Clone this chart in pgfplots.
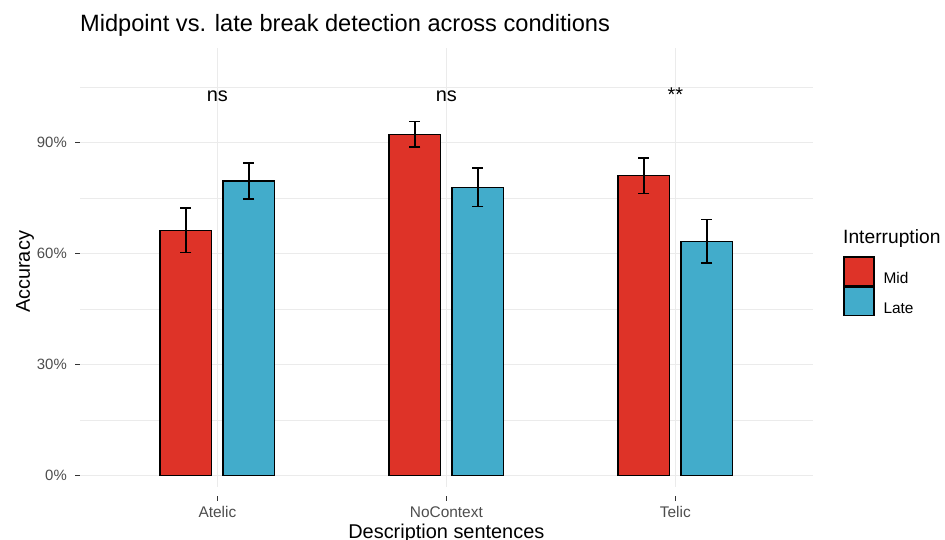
\documentclass[border=0pt]{standalone}
\usepackage{pgfplots}
\pgfplotsset{compat=1.18}
\usepackage{fontspec}
\setmainfont{Liberation Sans}
\definecolor{midred}{RGB}{222,51,40}
\definecolor{lateblue}{RGB}{66,172,203}
\definecolor{gridgrey}{RGB}{235,235,235}
\definecolor{ticktext}{RGB}{77,77,77}
\definecolor{tickcol}{RGB}{51,51,51}
\begin{document}
\begin{tikzpicture}
\useasboundingbox (-80bp,-44bp) rectangle (865bp,496bp);
\begin{axis}[
  at={(0bp,0bp)}, anchor=south west,
  scale only axis,
  width=732.7bp, height=448bp,
  xmin=-0.6, xmax=2.6, ymin=-5.5, ymax=115.5,
  ybar, bar width=0.225,
  xtick={0,1,2}, xticklabels={Atelic,NoContext,Telic},
  ytick={0,30,60,90}, yticklabels={0\%,30\%,60\%,90\%},
  minor ytick={15,45,75,105},
  ymajorgrids, yminorgrids,
  major grid style={gridgrey, line width=1.1bp},
  minor grid style={gridgrey, line width=0.6bp},
  axis x line*=bottom, axis y line*=left,
  axis line style={draw=none},
  tick align=outside,
  major tick length=4.5bp, minor tick length=0pt,
  major tick style={draw=tickcol, line width=1.2bp},
  yticklabel style={font=\fontsize{15}{18}\selectfont, text=ticktext, anchor=east, inner sep=0pt, xshift=-8.5bp},
  xticklabel style={font=\fontsize{15.5}{18}\selectfont, text=ticktext, anchor=base, inner sep=0pt, yshift=-17bp},
  legend style={at={(1.04138,0.53571)}, anchor=north west, draw=none, fill=none,
    inner sep=0pt, row sep=0pt, column sep=9bp, nodes={inner sep=0pt},
    font=\fontsize{15.5}{18}\selectfont},
  legend cell align=left,
  legend image code/.code={\draw[#1, line width=1.3bp] (0bp,-7bp) rectangle (30bp,21.7bp);},
]
\draw[gridgrey, line width=1.1bp] (axis cs:0,-3) -- (axis cs:0,115.5);
\draw[gridgrey, line width=1.1bp] (axis cs:1,-3) -- (axis cs:1,115.5);
\draw[gridgrey, line width=1.1bp] (axis cs:2,-3) -- (axis cs:2,115.5);
\addplot[bar shift=-0.1375, fill=midred, draw=black, line width=1.3bp,
  error bars/.cd, y dir=both, y explicit,
  error bar style={line width=1.6bp, black},
  error mark options={rotate=90, line width=1.6bp, black, mark size=5.6bp}]
  coordinates {(0,66.3) +- (0,6.0) (1,92.2) +- (0,3.4) (2,81.0) +- (0,4.8)};
\addlegendentry{Mid}
\addplot[bar shift=0.1375, fill=lateblue, draw=black, line width=1.3bp,
  error bars/.cd, y dir=both, y explicit,
  error bar style={line width=1.6bp, black},
  error mark options={rotate=90, line width=1.6bp, black, mark size=5.6bp}]
  coordinates {(0,79.6) +- (0,4.9) (1,77.9) +- (0,5.2) (2,63.3) +- (0,5.9)};
\addlegendentry{Late}
\node[font=\fontsize{20}{24}\selectfont, anchor=base] at (axis cs:0,101.0) {ns};
\node[font=\fontsize{20}{24}\selectfont, anchor=base] at (axis cs:1,101.0) {ns};
\node[font=\fontsize{20}{24}\selectfont, anchor=base] at (axis cs:2,101.0) {**};
\end{axis}
\node[inner sep=0pt, anchor=base west, font=\fontsize{23.7}{28}\selectfont] at (0bp,464bp) {Midpoint vs. late break detection across conditions};
\node[inner sep=0pt, anchor=base, font=\fontsize{20}{24}\selectfont] at (366.35bp,-42.5bp) {Description sentences};
\node[inner sep=0pt, anchor=base, rotate=90, font=\fontsize{20}{24}\selectfont] at (-50bp,224bp) {Accuracy};
\node[inner sep=0pt, anchor=base west, font=\fontsize{19.3}{24}\selectfont] at (763bp,252bp) {Interruption};
\end{tikzpicture}
\end{document}
